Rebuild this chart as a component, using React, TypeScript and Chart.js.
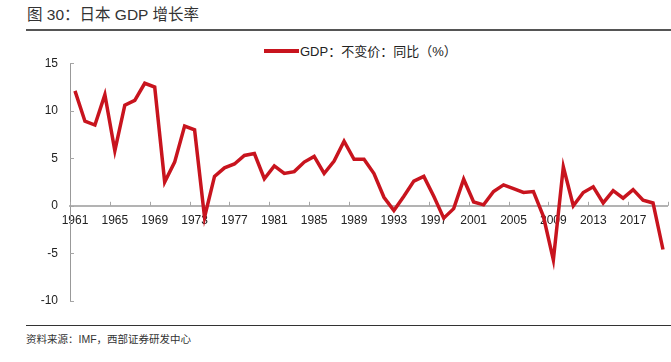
import React, { useEffect, useRef } from "react";
import { Chart, registerables } from "chart.js";

Chart.register(...registerables);

const years: string[] = [
  "1961", "1962", "1963", "1964", "1965", "1966", "1967", "1968", "1969", "1970",
  "1971", "1972", "1973", "1974", "1975", "1976", "1977", "1978", "1979", "1980",
  "1981", "1982", "1983", "1984", "1985", "1986", "1987", "1988", "1989", "1990",
  "1991", "1992", "1993", "1994", "1995", "1996", "1997", "1998", "1999", "2000",
  "2001", "2002", "2003", "2004", "2005", "2006", "2007", "2008", "2009", "2010",
  "2011", "2012", "2013", "2014", "2015", "2016", "2017", "2018", "2019", "2020",
];

const gdpGrowth: number[] = [
  12.1, 8.9, 8.5, 11.7, 5.8, 10.6, 11.1, 12.9, 12.5, 2.5,
  4.6, 8.4, 8.0, -1.2, 3.1, 4.0, 4.4, 5.3, 5.5, 2.85,
  4.2, 3.4, 3.6, 4.6, 5.2, 3.4, 4.7, 6.8, 4.9, 4.9,
  3.4, 0.9, -0.5, 1.0, 2.6, 3.1, 1.0, -1.3, -0.3, 2.8,
  0.4, 0.1, 1.5, 2.2, 1.8, 1.4, 1.5, -1.1, -5.7, 4.1,
  0.0, 1.4, 2.0, 0.3, 1.6, 0.8, 1.7, 0.6, 0.3, -4.6,
];

const yTicks: number[] = [-10, -5, 0, 5, 10, 15];

const titleText = "图 30：日本 GDP 增长率";
const legendText = "GDP：不变价：同比（%）";
const sourceText = "资料来源：IMF，西部证券研发中心";

const RED = "#C8141E";
const FONT = '"Liberation Sans", Arial, "Noto Sans CJK SC", sans-serif';

const innerTicks = {
  id: "innerTicks",
  beforeDatasetsDraw(chart: any) {
    const ctx = chart.ctx;
    const x = chart.scales.x;
    const y = chart.scales.y;
    const n = years.length;
    const step = (x.right - x.left) / n;
    const zeroY = y.getPixelForValue(0);
    ctx.save();
    ctx.strokeStyle = "#a6a6a6";
    ctx.lineWidth = 1;
    for (let i = 0; i <= n; i += 4) {
      const px = Math.round(x.getPixelForValue(Math.min(i, n - 1)) + (i < n ? -step / 2 : step / 2)) + 0.5;
      ctx.beginPath();
      ctx.moveTo(px, zeroY);
      ctx.lineTo(px, zeroY - 4);
      ctx.stroke();
    }
    const ax = x.left;
    for (const t of yTicks) {
      const py = Math.round(y.getPixelForValue(t)) + 0.5;
      ctx.beginPath();
      ctx.moveTo(ax, py);
      ctx.lineTo(ax + 4, py);
      ctx.stroke();
    }
    ctx.restore();
  },
};

export default function App() {
  const canvasRef = useRef<HTMLCanvasElement | null>(null);

  useEffect(() => {
    if (!canvasRef.current) return;
    const chart = new Chart(canvasRef.current, {
      type: "line",
      data: {
        labels: years,
        datasets: [
          {
            label: legendText,
            data: gdpGrowth,
            borderColor: RED,
            backgroundColor: RED,
            borderWidth: 3.5,
            pointRadius: 0,
            tension: 0,
            borderJoinStyle: "miter",
          },
        ],
      },
      options: {
        animation: false,
        responsive: false,
        maintainAspectRatio: false,
        layout: { padding: { left: 0, right: 1, top: 23.3, bottom: 17.7 } },
        plugins: {
          legend: { display: false },
          tooltip: { enabled: false },
          title: { display: false },
        },
        scales: {
          x: {
            type: "category",
            position: { y: 0 } as any,
            offset: true,
            grid: { display: false, drawTicks: false, offset: true },
            border: { display: true, color: "#b3b3b3", width: 2 },
            ticks: {
              autoSkip: false,
              maxRotation: 0,
              minRotation: 0,
              padding: 8,
              color: "#222",
              font: { family: FONT, size: 12 },
              callback: (_v: any, i: number) => (i % 4 === 0 ? years[i] : ""),
            },
          },
          y: {
            min: -10,
            max: 15,
            afterFit: (s: any) => {
              s.width = 70;
            },
            afterBuildTicks: (s: any) => {
              s.ticks = yTicks.map((v) => ({ value: v }));
            },
            grid: { display: false, drawTicks: false },
            border: { display: true, color: "#999", width: 1 },
            ticks: {
              padding: 12,
              color: "#222",
              font: { family: FONT, size: 12 },
            },
          },
        },
      },
      plugins: [innerTicks],
    });
    return () => chart.destroy();
  }, []);

  return (
    <div
      style={{
        position: "fixed",
        left: 0,
        top: 0,
        width: 671,
        height: 362,
        background: "#fff",
        fontFamily: FONT,
        overflow: "hidden",
      }}
    >
      <div
        style={{
          position: "absolute",
          left: 27,
          top: 5,
          fontSize: 15.5,
          lineHeight: "20px",
          color: "#333",
          whiteSpace: "nowrap",
        }}
      >
        {titleText}
      </div>
      <div style={{ position: "absolute", left: 26, top: 29, width: 645, height: 1.5, background: "#555" }} />
      <div
        style={{
          position: "absolute",
          left: 264,
          top: 42,
          display: "flex",
          alignItems: "center",
          height: 17,
          whiteSpace: "nowrap",
        }}
      >
        <span style={{ display: "inline-block", width: 35, height: 4, background: RED, marginRight: 1 }} />
        <span style={{ fontSize: 13, color: "#222" }}>{legendText}</span>
      </div>
      <canvas
        ref={canvasRef}
        width={671}
        height={280}
        style={{ position: "absolute", left: 0, top: 40, width: 671, height: 280 }}
      />
      <div style={{ position: "absolute", left: 26, top: 324.5, width: 645, height: 1.5, background: "#333" }} />
      <div
        style={{
          position: "absolute",
          left: 26,
          top: 332,
          fontSize: 10.5,
          lineHeight: "15px",
          color: "#333",
          whiteSpace: "nowrap",
        }}
      >
        {sourceText}
      </div>
    </div>
  );
}
